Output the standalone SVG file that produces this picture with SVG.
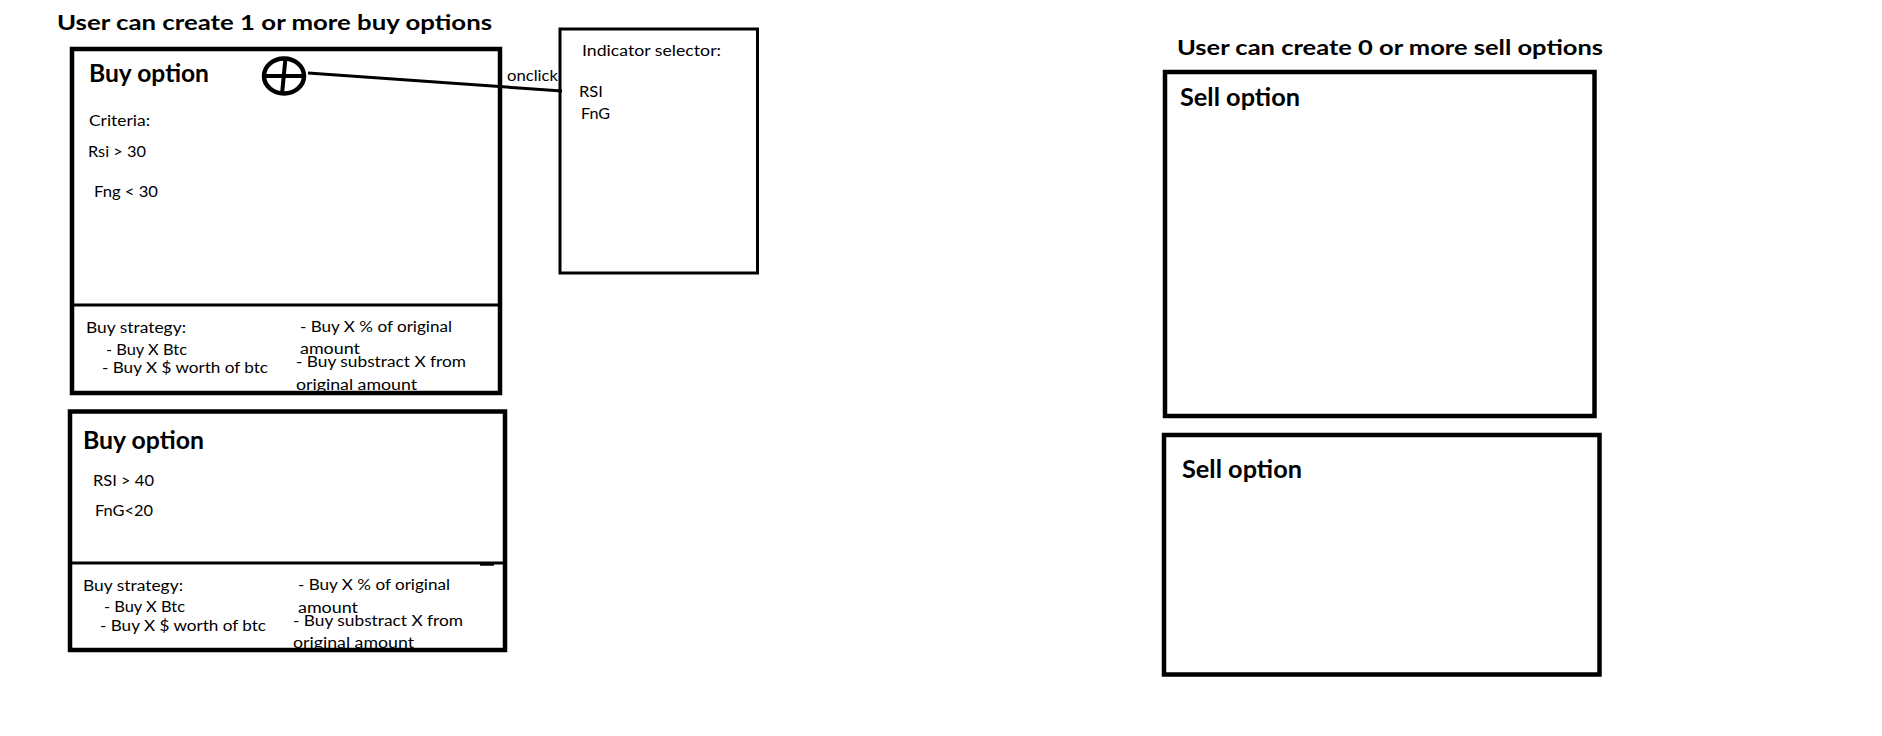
<svg xmlns="http://www.w3.org/2000/svg" width="1882" height="736" viewBox="0 0 1882 736">
<style>
.t{font-family:Lato,"Open Sans","Liberation Sans",sans-serif;fill:#000}
.h{font-size:21px;font-weight:bold}
.b{font-size:24px;font-weight:bold}
.s{font-size:15.5px}
.box{fill:none;stroke:#000;stroke-width:4.5}
.thin{fill:none;stroke:#000;stroke-width:3}
</style>
<rect width="1882" height="736" fill="#fff"/>
<text class="t h" x="57" y="30" textLength="435" lengthAdjust="spacingAndGlyphs">User  can create 1 or more buy options</text>
<text class="t h" x="1177" y="55" textLength="426" lengthAdjust="spacingAndGlyphs">User can create 0 or more sell options</text>

<g id="buy1">
<text class="t b" x="89" y="82" textLength="120" lengthAdjust="spacingAndGlyphs">Buy option</text>
<text class="t s" x="89" y="126" textLength="61" lengthAdjust="spacingAndGlyphs">Criteria:</text>
<text class="t s" x="88" y="157" textLength="58" lengthAdjust="spacingAndGlyphs">Rsi &gt; 30</text>
<text class="t s" x="94" y="197" textLength="64" lengthAdjust="spacingAndGlyphs">Fng &lt; 30</text>
<text class="t s" x="86" y="333" textLength="100" lengthAdjust="spacingAndGlyphs">Buy strategy:</text>
<text class="t s" x="106" y="355" textLength="81" lengthAdjust="spacingAndGlyphs">- Buy X Btc</text>
<text class="t s" x="102" y="373" textLength="166" lengthAdjust="spacingAndGlyphs">- Buy X $ worth of btc</text>
<text class="t s" x="300" y="332" textLength="152" lengthAdjust="spacingAndGlyphs">- Buy X % of original</text>
<text class="t s" x="300" y="354" textLength="60" lengthAdjust="spacingAndGlyphs">amount</text>
<text class="t s" x="296" y="367" textLength="170" lengthAdjust="spacingAndGlyphs">- Buy substract X from</text>
<text class="t s" x="296" y="390" textLength="121" lengthAdjust="spacingAndGlyphs">original amount</text>
<rect class="box" x="72" y="49" width="428" height="344"/>
<line class="thin" x1="72" y1="305" x2="500" y2="305"/>
<ellipse cx="284" cy="76" rx="20" ry="17.5" fill="none" stroke="#000" stroke-width="4.5"/>
<line x1="263" y1="76" x2="306" y2="76" stroke="#000" stroke-width="4"/>
<line x1="285.5" y1="58" x2="282" y2="94" stroke="#000" stroke-width="4"/>
</g>

<g id="buy2">
<text class="t b" x="83" y="449" textLength="121" lengthAdjust="spacingAndGlyphs">Buy option</text>
<text class="t s" x="93" y="486" textLength="61" lengthAdjust="spacingAndGlyphs">RSI &gt; 40</text>
<text class="t s" x="95" y="516" textLength="58" lengthAdjust="spacingAndGlyphs">FnG&lt;20</text>
<text class="t s" x="83" y="591" textLength="100" lengthAdjust="spacingAndGlyphs">Buy strategy:</text>
<text class="t s" x="104" y="612" textLength="81" lengthAdjust="spacingAndGlyphs">- Buy X Btc</text>
<text class="t s" x="100" y="631" textLength="166" lengthAdjust="spacingAndGlyphs">- Buy X $ worth of btc</text>
<text class="t s" x="298" y="590" textLength="152" lengthAdjust="spacingAndGlyphs">- Buy X % of original</text>
<text class="t s" x="298" y="613" textLength="60" lengthAdjust="spacingAndGlyphs">amount</text>
<text class="t s" x="293" y="626" textLength="170" lengthAdjust="spacingAndGlyphs">- Buy substract X from</text>
<text class="t s" x="293" y="648" textLength="121" lengthAdjust="spacingAndGlyphs">original amount</text>
<rect class="box" x="70" y="411.5" width="435" height="238.5"/>
<line class="thin" x1="70" y1="563" x2="503" y2="563"/>
<line x1="480" y1="564.5" x2="494" y2="564.5" stroke="#000" stroke-width="2.5"/>
</g>

<g id="indicator">
<text class="t s" x="582" y="56" textLength="139" lengthAdjust="spacingAndGlyphs">Indicator selector:</text>
<text class="t s" x="579" y="97" textLength="24" lengthAdjust="spacingAndGlyphs">RSI</text>
<text class="t s" x="581" y="119" textLength="29" lengthAdjust="spacingAndGlyphs">FnG</text>
<rect class="thin" x="560" y="29" width="197.5" height="244"/>
</g>

<g id="sell1">
<text class="t b" x="1180" y="106" textLength="120" lengthAdjust="spacingAndGlyphs">Sell option</text>
<rect class="box" x="1165" y="72" width="429.5" height="344"/>
</g>

<g id="sell2">
<text class="t b" x="1182" y="478" textLength="120" lengthAdjust="spacingAndGlyphs">Sell option</text>
<rect class="box" x="1164" y="435" width="435.5" height="239.5"/>
</g>

<g id="connectors">
<line x1="308" y1="73" x2="562" y2="91" stroke="#000" stroke-width="3"/>
<text class="t s" x="507" y="81" textLength="51" lengthAdjust="spacingAndGlyphs">onclick</text>
</g>
</svg>
